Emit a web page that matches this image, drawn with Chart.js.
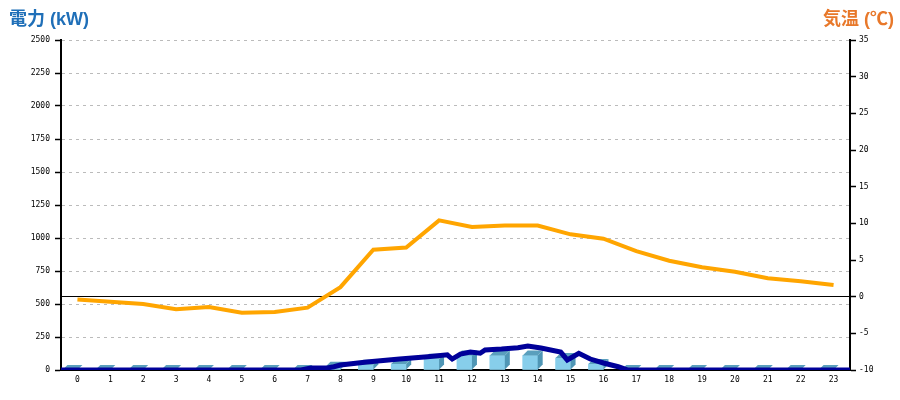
<!DOCTYPE html>
<html>
<head>
<meta charset="utf-8">
<script src="https://cdn.jsdelivr.net/npm/chart.js@4"></script>
<style>
  body { margin: 0; background: #fff; }
  #wrap { position: relative; width: 900px; height: 400px; }
  .ttl { position: absolute; top: 4px; font: bold 18px "Liberation Sans", "Noto Sans CJK JP", sans-serif; }
</style>
</head>
<body>
<div id="wrap">
  <canvas id="myChart" width="900" height="400"></canvas>
  <div class="ttl" style="left:9px;color:#1f6fb8">電力 (kW)</div>
  <div class="ttl" style="right:6px;color:#e8782a">気温 (℃)</div>
</div>
<script>
// hourly categories
const hours = ["0","1","2","3","4","5","6","7","8","9","10","11","12","13","14","15","16","17","18","19","20","21","22","23"];

// temperature (C), one per hour
const temperature = [-0.4, -0.7, -1.0, -1.7, -1.4, -2.2, -2.1, -1.5, 1.3, 6.4, 6.7, 10.4,
                     9.5, 9.7, 9.7, 8.5, 7.9, 6.2, 4.9, 4.0, 3.4, 2.5, 2.1, 1.6];

// hourly bars (kW)
const hourlyKw = [0, 0, 0, 0, 0, 0, 0, 0, 25, 40, 45, 85, 110, 110, 110, 90, 45, 0, 0, 0, 0, 0, 0, 0];

// power line (kW), time in hours
const powerTime = [0, 7.3, 7.6, 8.1, 8.3, 8.5, 9.3, 10.3, 11.15, 11.75, 11.9, 12.15, 12.45, 12.75, 12.9,
                   13.4, 13.9, 14.2, 14.6, 15.2, 15.4, 15.75, 16.1, 16.5, 16.95, 17.25, 24];
const powerKw   = [0, 0, 15, 15, 25, 38, 60, 83, 100, 115, 83, 121, 136, 127, 152,
                   159, 169, 182, 167, 136, 76, 127, 83, 53, 25, 0, 0];

const tickFont = { family: "DejaVu Sans Mono", size: 8 };

// fake 3d look for the bars: top and side faces
const cube = {
  id: "cube",
  afterDatasetDraw(chart, args) {
    if (args.meta.type !== "bar") return;
    const ctx = chart.ctx;
    const d = 5;
    ctx.save();
    args.meta.data.forEach((bar) => {
      const { x, y, base, width } = bar.getProps(["x", "y", "base", "width"], true);
      const l = x - width / 2, r = x + width / 2;
      if (base - y > 0.5) {
        ctx.fillStyle = "#4f96b5";
        ctx.beginPath();
        ctx.moveTo(r, y); ctx.lineTo(r + d, y - d); ctx.lineTo(r + d, base - d); ctx.lineTo(r, base);
        ctx.closePath(); ctx.fill();
      }
      ctx.fillStyle = "#5a9fbd";
      ctx.beginPath();
      ctx.moveTo(l, y); ctx.lineTo(l + d, y - d); ctx.lineTo(r + d, y - d); ctx.lineTo(r, y);
      ctx.closePath(); ctx.fill();
    });
    ctx.restore();
  }
};

const data = {
  labels: hours,
  datasets: [
    {
      type: "line",
      data: temperature,
      yAxisID: "y1",
      xAxisID: "x",
      borderColor: "#ffa500",
      borderWidth: 4,
      pointRadius: 0,
      tension: 0
    },
    {
      type: "line",
      data: powerTime.map((t, i) => ({ x: t, y: powerKw[i] })),
      yAxisID: "y",
      xAxisID: "x2",
      borderColor: "#000099",
      borderWidth: 5,
      pointRadius: 0,
      tension: 0
    },
    {
      type: "bar",
      data: hourlyKw,
      yAxisID: "y",
      xAxisID: "x",
      backgroundColor: "#87ceeb",
      barThickness: 15
    }
  ]
};

const config = {
  data,
  plugins: [cube],
  options: {
    responsive: false,
    animation: false,
    events: [],
    layout: { padding: { top: 40, left: 0, right: 0, bottom: 0 } },
    plugins: { legend: { display: false }, tooltip: { enabled: false } },
    scales: {
      x: {
        type: "category",
        offset: true,
        grid: { display: false, drawTicks: false },
        border: { display: true, color: "#000", width: 2 },
        ticks: { color: "#000", font: tickFont, maxRotation: 0, autoSkip: false, padding: 5 },
        afterFit: (s) => { s.height = 30; }
      },
      x2: { type: "linear", min: 0, max: 24, display: false },
      y: {
        position: "left",
        min: 0,
        max: 2500,
        ticks: { stepSize: 250, color: "#000", font: tickFont, padding: 5, callback: (v) => String(v) },
        grid: { color: "#bbb", tickColor: "#000", tickLength: 6, tickWidth: 1.5 },
        border: { color: "#000", width: 2, dash: [3, 4] },
        afterFit: (s) => { s.width = 61; }
      },
      y1: {
        position: "right",
        min: -10,
        max: 35,
        ticks: { stepSize: 5, color: "#000", font: tickFont, padding: 3, callback: (v) => String(v) },
        grid: {
          color: (c) => (c.tick && c.tick.value === 0 ? "#000" : "rgba(0,0,0,0)"),
          tickColor: "#000",
          tickLength: 6,
          tickWidth: 1.5
        },
        border: { color: "#000", width: 2, dash: [] },
        afterFit: (s) => { s.width = 50; }
      }
    }
  }
};

const myChart = new Chart(document.getElementById("myChart"), config);
</script>
</body>
</html>
